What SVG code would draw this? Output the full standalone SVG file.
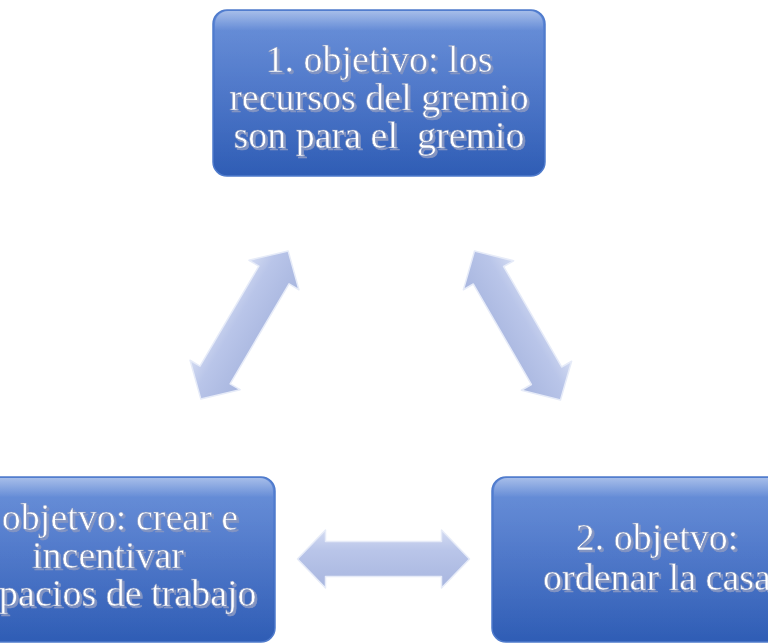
<svg xmlns="http://www.w3.org/2000/svg" width="768" height="644" viewBox="0 0 768 644">
  <defs>
    <linearGradient id="boxFill" x1="0" y1="0" x2="0" y2="1">
      <stop offset="0" stop-color="#5d87d7"/>
      <stop offset="0.5" stop-color="#4671c6"/>
      <stop offset="1" stop-color="#2f5db5"/>
    </linearGradient>
    <linearGradient id="boxGloss" x1="0" y1="0" x2="0" y2="1">
      <stop offset="0" stop-color="#ffffff" stop-opacity="0.45"/>
      <stop offset="0.12" stop-color="#ffffff" stop-opacity="0.08"/>
      <stop offset="1" stop-color="#ffffff" stop-opacity="0"/>
    </linearGradient>
    <linearGradient id="arrowFill" x1="0" y1="0" x2="0" y2="1">
      <stop offset="0" stop-color="#d3dbf2"/>
      <stop offset="0.35" stop-color="#b9c5e9"/>
      <stop offset="1" stop-color="#a8b6df"/>
    </linearGradient>
    <filter id="txtShadow" x="-10%" y="-20%" width="120%" height="140%">
      <feOffset in="SourceAlpha" dx="1.5" dy="1.5" result="off"/>
      <feFlood flood-color="#8394c2"/>
      <feComposite in2="off" operator="in" result="sh"/>
      <feMerge>
        <feMergeNode in="sh"/>
        <feMergeNode in="SourceGraphic"/>
      </feMerge>
    </filter>
    <path id="dblArrow" d="M-86,0 L-58,-29 L-58,-17.5 L58,-17.5 L58,-29 L86,0 L58,29 L58,17.5 L-58,17.5 L-58,29 Z"/>
  </defs>
  <style>
    .box { fill: url(#boxFill); stroke: #4f7bcc; stroke-width: 1.5; }
    .gloss { fill: url(#boxGloss); }
    .arrow { fill: url(#arrowFill); stroke: #e6ebf8; stroke-width: 1.5; stroke-linejoin: round; }
    .t { font-family: "Liberation Serif", "Times New Roman", serif; font-size: 38px; text-anchor: middle; fill: #ffffff; stroke: #7f90bb; stroke-width: 0.6; filter: url(#txtShadow); }
  </style>

  <g id="connectors">
    <use href="#dblArrow" class="arrow" transform="translate(244.5,325) rotate(-59.5)"/>
    <use href="#dblArrow" class="arrow" transform="translate(517.5,325.5) rotate(60)"/>
    <use href="#dblArrow" class="arrow" transform="translate(383.5,559)"/>
  </g>

  <g id="node1">
    <rect class="box" x="213" y="10" width="332" height="166" rx="14"/>
    <rect class="gloss" x="215" y="11" width="328" height="163" rx="13"/>
    <text class="t" x="379" y="72">1. objetivo: los</text>
    <text class="t" x="379" y="110">recursos del gremio</text>
    <text class="t" x="379" y="148" xml:space="preserve">son para el  gremio</text>
  </g>

  <g id="node2">
    <rect class="box" x="492" y="477" width="332" height="165" rx="14"/>
    <rect class="gloss" x="494" y="478" width="328" height="162" rx="13"/>
    <text class="t" x="657" y="550">2. objetvo:</text>
    <text class="t" x="657" y="590">ordenar la casa</text>
  </g>

  <g id="node3">
    <rect class="box" x="-57" y="477" width="332" height="165" rx="14"/>
    <rect class="gloss" x="-55" y="478" width="328" height="162" rx="13"/>
    <text class="t" x="101" y="530">3. objetvo: crear e</text>
    <text class="t" x="108" y="568">incentivar</text>
    <text class="t" x="112" y="606">espacios de trabajo</text>
  </g>
</svg>
